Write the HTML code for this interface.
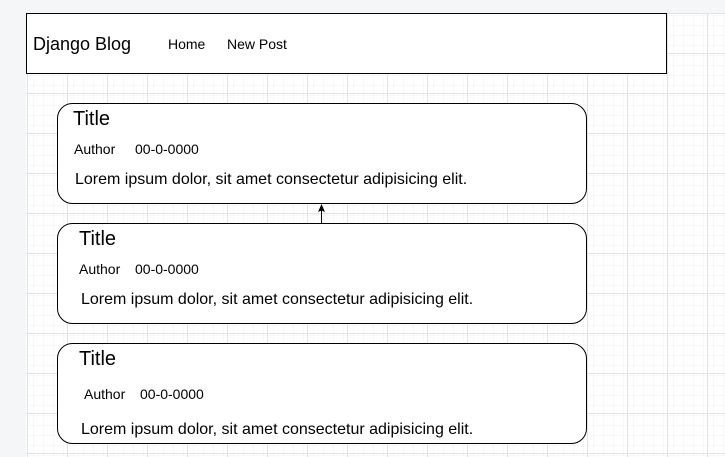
<!DOCTYPE html>
<html><head><style>
html,body{margin:0;padding:0;background:#f5f6f8;}
body{width:725px;height:457px;overflow:hidden;position:relative;}
svg{position:absolute;left:0;top:0;}
text{font-family:"Liberation Sans",Arial,sans-serif;fill:#000;}
</style></head><body>
<svg width="725" height="457" viewBox="0 0 725 457">
<defs>
<pattern id="minor" x="27" y="13" width="10" height="10" patternUnits="userSpaceOnUse">
<path d="M10 0V10M0 10H10" fill="none" stroke="#f0f0f0" stroke-width="1"/>
</pattern>
<pattern id="major" x="27" y="13" width="40" height="40" patternUnits="userSpaceOnUse">
<rect width="40" height="40" fill="url(#minor)"/>
<path d="M0.5 0V40M0 0.5H40" fill="none" stroke="#e3e3e3" stroke-width="1"/>
</pattern>
</defs>
<rect x="26" y="13" width="699" height="444" fill="#fff"/>
<rect x="26" y="13" width="699" height="444" fill="url(#major)"/>
<rect x="26.5" y="13.5" width="640" height="60" fill="#fff" stroke="#000"/>
<text x="33" y="50" font-size="18">Django Blog</text>
<text x="168" y="49" font-size="14">Home</text>
<text x="227" y="49" font-size="14">New Post</text>

<rect x="57.5" y="103.5" width="529" height="100" rx="15" fill="#fff" stroke="#000"/>
<text x="73" y="125" font-size="20">Title</text>
<text x="74" y="154" font-size="14">Author</text>
<text x="135" y="154" font-size="14">00-0-0000</text>
<text x="75" y="184" font-size="16">Lorem ipsum dolor, sit amet consectetur adipisicing elit.</text>

<rect x="57.5" y="223.5" width="529" height="100" rx="15" fill="#fff" stroke="#000"/>
<text x="79" y="245" font-size="20">Title</text>
<text x="79" y="274" font-size="14">Author</text>
<text x="135" y="274" font-size="14">00-0-0000</text>
<text x="81" y="304" font-size="16">Lorem ipsum dolor, sit amet consectetur adipisicing elit.</text>

<rect x="57.5" y="343.5" width="529" height="100" rx="15" fill="#fff" stroke="#000"/>
<text x="79" y="365" font-size="20">Title</text>
<text x="84" y="399" font-size="14">Author</text>
<text x="140" y="399" font-size="14">00-0-0000</text>
<text x="81" y="434" font-size="16">Lorem ipsum dolor, sit amet consectetur adipisicing elit.</text>

<line x1="321.5" y1="223" x2="321.5" y2="210" stroke="#000" stroke-width="1"/>
<path d="M321.5 204 L325 212 L321.5 210.5 L318 212 Z" fill="#000"/>
</svg>
</body></html>
